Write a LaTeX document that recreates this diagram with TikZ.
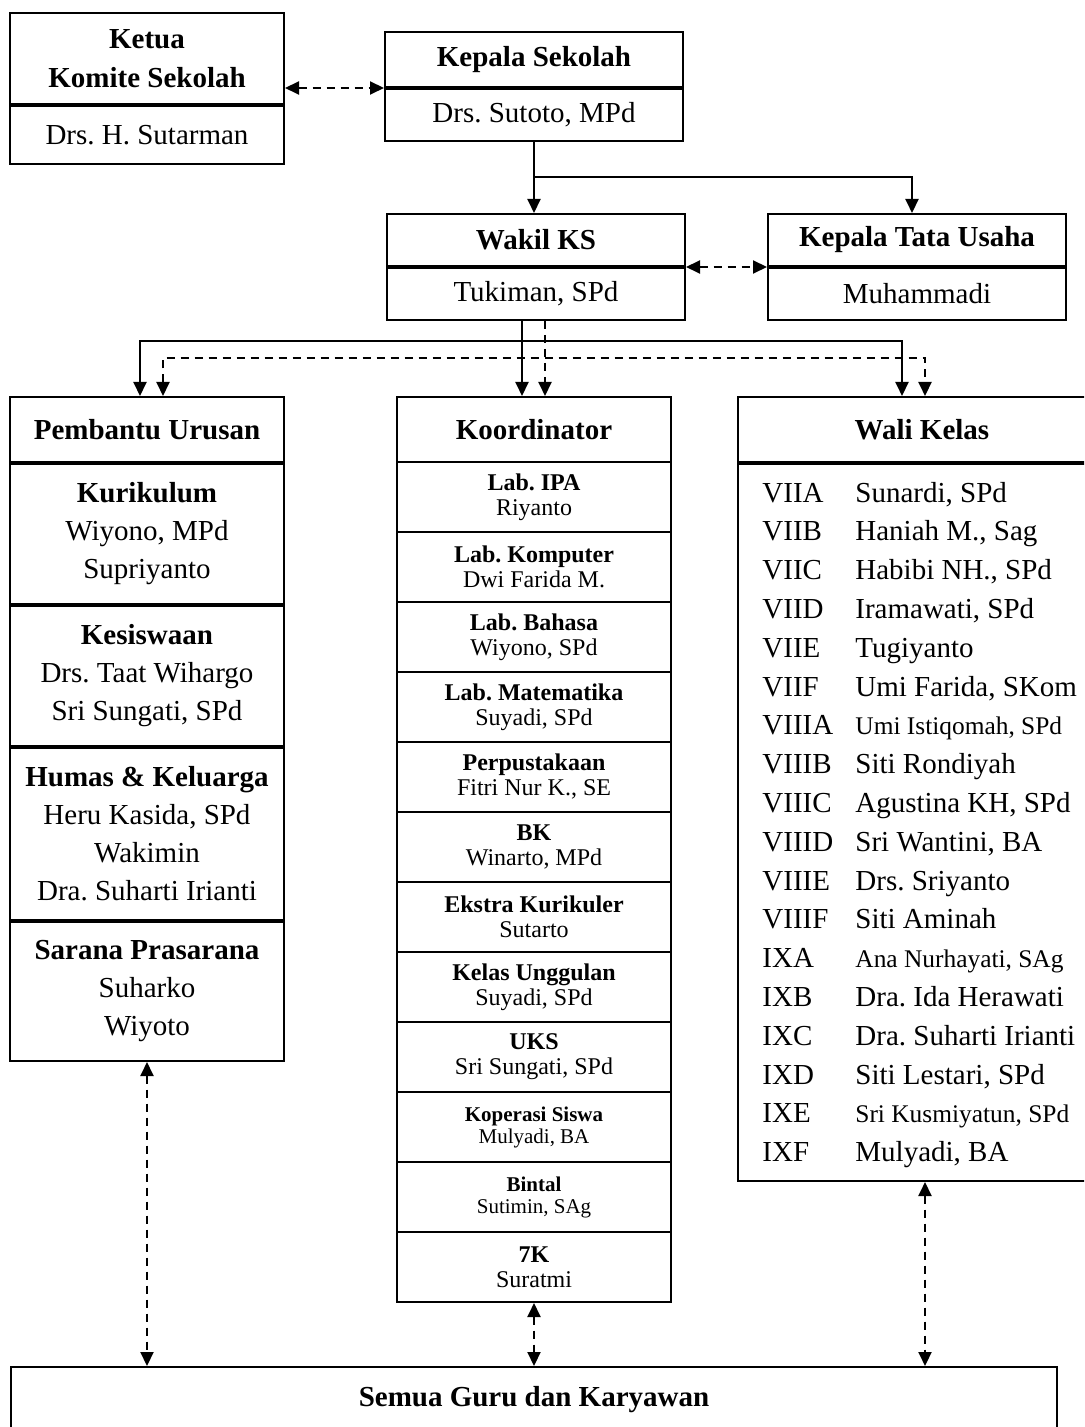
\documentclass[tikz,border=0pt]{standalone}
\usepackage{fontspec}
\setmainfont{Liberation Serif}
\usetikzlibrary{arrows.meta}
\frenchspacing

\begin{document}
\begin{tikzpicture}[x=0.5pt,y=-0.5pt,
    box/.style={draw,line width=1pt,inner sep=0pt,anchor=north,align=center,
        font=\fontsize{14.5}{19}\selectfont},
    headbox/.style={box,font=\fontsize{14.5}{19.5}\selectfont\bfseries},
    koorsec/.style={box,minimum width=137pt,minimum height=35pt},
    rowtext/.style={anchor=base west,inner sep=0pt},
    solidarr/.style={line width=1pt,-{Triangle[length=7pt,width=6.5pt]}},
    bothsolid/.style={line width=1pt,{Triangle[length=7pt,width=6.5pt]}-{Triangle[length=7pt,width=6.5pt]}},
    dashone/.style={line width=1pt,dash pattern=on 4pt off 3pt,-{Triangle[length=7pt,width=6.5pt]}},
    dasharr/.style={line width=1pt,dash pattern=on 4pt off 3pt,
        {Triangle[length=7pt,width=6.5pt]}-{Triangle[length=7pt,width=6.5pt]}}]

    % page size
    \useasboundingbox (0,0) rectangle (1084,1427);
    \clip (0,0) rectangle (1084,1427);

    % top boxes
    \node[headbox,minimum width=137pt,minimum height=45.5pt] (ketuaHead) at (147,12) {Ketua\\Komite Sekolah};
    \node[box,minimum width=137pt,minimum height=29pt] (ketuaName) at (ketuaHead.south) {Drs. H. Sutarman};

    \node[headbox,minimum width=149pt,minimum height=27.5pt] (kepsekHead) at (534,31) {Kepala Sekolah};
    \node[box,minimum width=149pt,minimum height=26pt] (kepsekName) at (kepsekHead.south) {Drs. Sutoto, MPd};

    \node[headbox,minimum width=149pt,minimum height=26pt] (wakilHead) at (536,213) {Wakil KS};
    \node[box,minimum width=149pt,minimum height=26pt] (wakilName) at (wakilHead.south) {Tukiman, SPd};

    \node[headbox,minimum width=149pt,minimum height=26pt] (ktuHead) at (917,213) {Kepala Tata Usaha};
    \node[box,minimum width=149pt,minimum height=26pt] (ktuName) at (ktuHead.south) {Muhammadi};

    % Pembantu Urusan
    \node[headbox,minimum width=137pt,minimum height=32.5pt] (pembHead) at (147,396) {Pembantu Urusan};
    \node[box,minimum width=137pt,minimum height=70pt] (kurikulum) at (pembHead.south)
        {\textbf{Kurikulum}\\Wiyono, MPd\\Supriyanto};
    \node[box,minimum width=137pt,minimum height=70pt] (kesiswaan) at (kurikulum.south)
        {\textbf{Kesiswaan}\\Drs. Taat Wihargo\\Sri Sungati, SPd};
    \node[box,minimum width=137pt,minimum height=86pt] (humas) at (kesiswaan.south)
        {\textbf{Humas \& Keluarga}\\Heru Kasida, SPd\\Wakimin\\Dra. Suharti Irianti};
    \node[box,minimum width=137pt,minimum height=69.5pt] (sarana) at (humas.south)
        {\textbf{Sarana Prasarana}\\Suharko\\Wiyoto};

    % Koordinator
    \node[headbox,minimum width=137pt,minimum height=32.5pt] (koorHead) at (534,396) {Koordinator};
    \foreach \ttl/\nm/\fs/\bs [count=\i] in {Lab. IPA/Riyanto/12/12.5,
        Lab. Komputer/Dwi Farida M./12/12.5, Lab. Bahasa/{Wiyono, SPd}/12/12.5,
        Lab. Matematika/{Suyadi, SPd}/12/12.5, Perpustakaan/{Fitri Nur K., SE}/12/12.5,
        BK/{Winarto, MPd}/12/12.5, Ekstra Kurikuler/Sutarto/12/12.5,
        Kelas Unggulan/{Suyadi, SPd}/12/12.5, UKS/{Sri Sungati, SPd}/12/12.5,
        Koperasi Siswa/{Mulyadi, BA}/10.5/11, Bintal/{Sutimin, SAg}/10.5/11,
        7K/Suratmi/12/12.5}
        \node[koorsec,font=\fontsize{\fs}{\bs}\selectfont] (koor\i) at (534,{461+(\i-1)*70}) {\textbf{\ttl}\\\nm};

    % Wali Kelas
    \node[headbox,minimum width=184pt,minimum height=32.5pt] (waliHead) at (922,396) {Wali Kelas};
    \node[box,minimum width=184pt,minimum height=358.5pt] (waliBody) at (waliHead.south) {};
    \foreach \cls/\nm/\fs [count=\i from 0] in {VIIA/{Sunardi, SPd}/14.5,
        VIIB/{Haniah M., Sag}/14.5, VIIC/{Habibi NH., SPd}/14.5, VIID/{Iramawati, SPd}/14.5,
        VIIE/Tugiyanto/14.5, VIIF/{Umi Farida, SKom}/14.5, VIIIA/{Umi Istiqomah, SPd}/12.7,
        VIIIB/Siti Rondiyah/14.5, VIIIC/{Agustina KH, SPd}/14.5, VIIID/{Sri Wantini, BA}/14.5,
        VIIIE/Drs. Sriyanto/14.5, VIIIF/Siti Aminah/14.5, IXA/{Ana Nurhayati, SAg}/12.7,
        IXB/Dra. Ida Herawati/14.5, IXC/Dra. Suharti Irianti/14.5, IXD/{Siti Lestari, SPd}/14.5,
        IXE/{Sri Kusmiyatun, SPd}/12.7, IXF/{Mulyadi, BA}/14.5}{
        \node[rowtext,font=\fontsize{14.5}{19}\selectfont] (cls\i) at (762,{502+\i*38.8}) {\cls};
        \node[rowtext,font=\fontsize{\fs}{19}\selectfont] (nm\i) at (855,{502+\i*38.8}) {\nm};
    }

    % bottom box
    \node[headbox,minimum width=523pt,minimum height=33pt] (semua) at (534,1366) {Semua Guru dan Karyawan};

    % connectors
    \draw[dasharr] (ketuaHead.east |- kepsekHead.south) -- (kepsekHead.south west);
    \draw[solidarr] (kepsekName.south) -- (kepsekName.south |- wakilHead.north);
    \coordinate (ksBranch) at ([yshift=-17.5pt]kepsekName.south);
    \draw[solidarr] (ksBranch) -| ([xshift=-2.5pt]ktuHead.north);
    \draw[dasharr] (wakilHead.south east) -- (ktuHead.south west);

    \coordinate (lineBus) at (0,341);
    \coordinate (dashBus) at (0,358);
    \coordinate (pembIn) at ([xshift=-3.5pt]pembHead.north);
    \coordinate (pembDash) at ([xshift=8pt]pembHead.north);
    \coordinate (waliIn) at ([xshift=-10pt]waliHead.north);
    \coordinate (waliDash) at ([xshift=1.5pt]waliHead.north);
    \draw[solidarr] ([xshift=-7pt]wakilName.south) -- ([xshift=-6pt]koorHead.north);
    \draw[dashone] ([xshift=4.5pt]wakilName.south) -- ([xshift=5.5pt]koorHead.north);
    \draw[bothsolid] (pembIn) |- (lineBus -| waliIn) -- (waliIn);
    \draw[dasharr] (pembDash) |- (dashBus -| waliDash) -- (waliDash);

    \coordinate (waliOut) at ([xshift=1.5pt]waliBody.south);
    \draw[dasharr] (sarana.south) -- (sarana.south |- semua.north);
    \draw[dasharr] (koor12.south) -- (koor12.south |- semua.north);
    \draw[dasharr] (waliOut) -- (waliOut |- semua.north);

\end{tikzpicture}
\end{document}
